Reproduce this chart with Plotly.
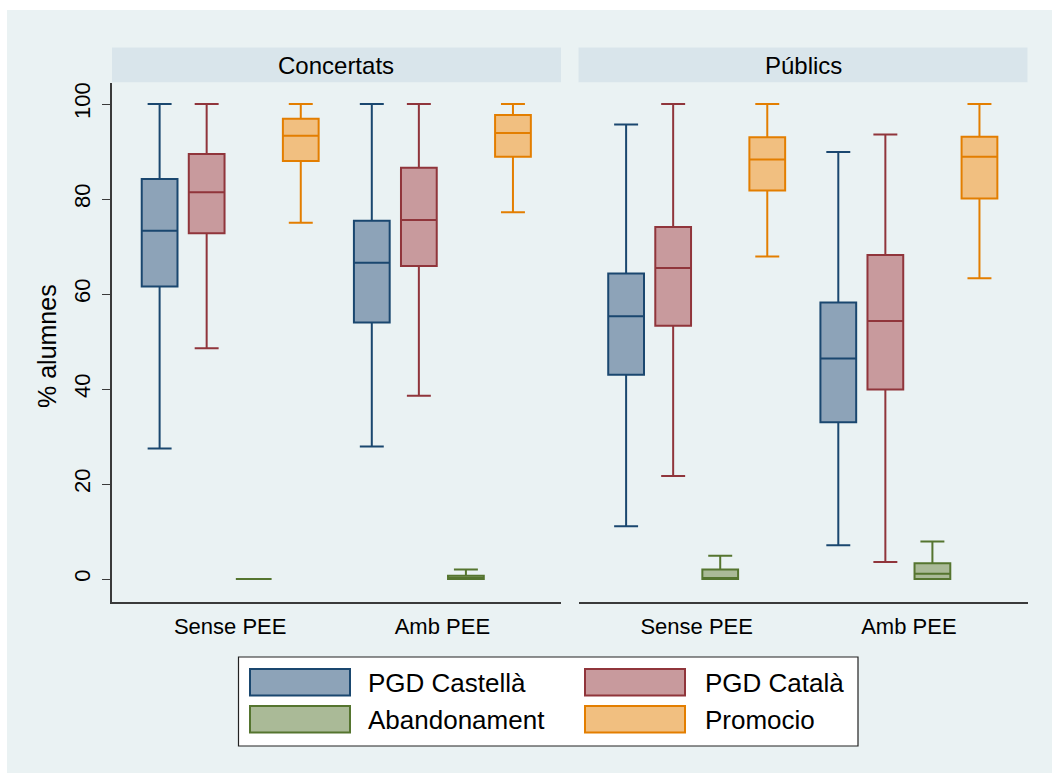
import plotly.graph_objects as go

W, H = 1052, 773

panels = ["Concertats", "Públics"]
groups = ["Sense PEE", "Amb PEE"]
series = ["PGD Castellà", "PGD Català", "Abandonament", "Promocio"]

# each entry per group: (lower whisker, q1, median, q3, upper whisker)
conc_castella = [(27.5, 61.6, 73.3, 84.2, 100), (27.9, 54.0, 66.6, 75.4, 100)]
conc_catala = [(48.6, 72.8, 81.4, 89.5, 100), (38.6, 65.9, 75.6, 86.6, 100)]
conc_abandon = [(0, 0, 0, 0, 0), (0, 0, 0, 0.7, 2.0)]
conc_promocio = [(75.0, 88.0, 93.3, 96.9, 100), (77.2, 88.9, 93.9, 97.7, 100)]

pub_castella = [(11.1, 43.0, 55.3, 64.3, 95.7), (7.1, 33.0, 46.4, 58.2, 89.9)]
pub_catala = [(21.7, 53.3, 65.5, 74.1, 100), (3.6, 39.9, 54.3, 68.2, 93.6)]
pub_abandon = [(0, 0, 0, 2.0, 4.9), (0, 0, 1.1, 3.3, 7.9)]
pub_promocio = [(67.9, 81.8, 88.3, 93.0, 100), (63.3, 80.1, 88.9, 93.1, 100)]

y_ticks = [0, 20, 40, 60, 80, 100]

line_colors = ["#1A476F", "#90353B", "#55752F", "#E37E00"]
fill_colors = ["#8DA3B8", "#C89A9D", "#AABA97", "#F1BF80"]

FONT = "Liberation Sans, Arial, sans-serif"


def X(px):
    return px / W


def Y(py):
    return 1 - py / H


fig = go.Figure()

panel_data = [
    [conc_castella, conc_catala, conc_abandon, conc_promocio],
    [pub_castella, pub_catala, pub_abandon, pub_promocio],
]

for p, pdata in enumerate(panel_data):
    for s, sdata in enumerate(pdata):
        fig.add_trace(go.Box(
            x=groups,
            lowerfence=[d[0] for d in sdata],
            q1=[d[1] for d in sdata],
            median=[d[2] for d in sdata],
            q3=[d[3] for d in sdata],
            upperfence=[d[4] for d in sdata],
            name=series[s],
            offsetgroup=str(s),
            line=dict(color=line_colors[s], width=2),
            fillcolor=fill_colors[s],
            whiskerwidth=0.67,
            boxpoints=False,
            showlegend=False,
            hoverinfo="skip",
            xaxis="x" if p == 0 else "x2",
            yaxis="y" if p == 0 else "y2",
        ))

plot_top, plot_bot = 83, 602
px_per_unit = 4.75
y0_px = 579
yr = [-(plot_bot - y0_px) / px_per_unit, 100 + (104 - plot_top) / px_per_unit]
ydom = [Y(plot_bot), Y(plot_top)]

p1 = (112, 561)
p2 = (578.5, 1027.5)

common_x = dict(
    type="category",
    categoryorder="array",
    categoryarray=groups,
    range=[-0.557, 1.559],
    showgrid=False,
    zeroline=False,
    showline=True,
    linecolor="#3A3A3A",
    linewidth=1.6,
    ticks="",
    tickfont=dict(family=FONT, size=22, color="#000000"),
    ticklabelstandoff=4,
    fixedrange=True,
)

fig.update_layout(
    width=W,
    height=H,
    margin=dict(l=0, r=0, t=0, b=0),
    paper_bgcolor="#FFFFFF",
    plot_bgcolor="#FFFFFF",
    boxmode="group",
    boxgap=0.113,
    boxgroupgap=0.24,
    showlegend=False,
    font=dict(family=FONT, color="#000000"),
    xaxis=dict(domain=[X(p1[0]), X(p1[1])], anchor="y", **common_x),
    xaxis2=dict(domain=[X(p2[0]), X(p2[1])], anchor="y2", **common_x),
    yaxis=dict(
        domain=ydom,
        range=yr,
        tickvals=y_ticks,
        ticktext=[str(v) for v in y_ticks],
        tickangle=-90,
        tickfont=dict(family=FONT, size=22, color="#000000"),
        ticks="outside",
        ticklen=8,
        tickwidth=1.4,
        tickcolor="#3A3A3A",
        showline=True,
        linecolor="#3A3A3A",
        linewidth=1.6,
        showgrid=True,
        gridcolor="#EAF2F3",
        gridwidth=2,
        zeroline=False,
        ticklabelstandoff=3,
        anchor="x",
        fixedrange=True,
    ),
    yaxis2=dict(
        domain=ydom,
        range=yr,
        matches="y",
        tickvals=y_ticks,
        showticklabels=False,
        ticks="",
        showline=False,
        showgrid=True,
        gridcolor="#EAF2F3",
        gridwidth=2,
        zeroline=False,
        anchor="x2",
        fixedrange=True,
    ),
)

shapes = []
# graph region background
shapes.append(dict(type="rect", xref="paper", yref="paper", x0=X(7), x1=1, y0=0, y1=Y(10),
                   fillcolor="#EAF2F3", line=dict(width=0), layer="below"))
annotations = []
# panel headers
for (a, b), title in zip([p1, p2], panels):
    shapes.append(dict(type="rect", xref="paper", yref="paper", x0=X(a), x1=X(b),
                       y0=Y(82.3), y1=Y(47.5), fillcolor="#D9E5EB", line=dict(width=0), layer="below"))
    annotations.append(dict(text=title, xref="paper", yref="paper", x=X((a + b) / 2), y=Y(65),
                            xanchor="center", yanchor="middle", showarrow=False,
                            font=dict(family=FONT, size=24, color="#000000")))

# y-axis title
annotations.append(dict(text="% alumnes", xref="paper", yref="paper", x=X(47), y=Y(346),
                        xanchor="center", yanchor="middle", textangle=-90, showarrow=False,
                        font=dict(family=FONT, size=25, color="#000000")))

# legend box
shapes.append(dict(type="rect", xref="paper", yref="paper", x0=X(238.5), x1=X(858), y0=Y(746), y1=Y(657),
                   fillcolor="#FFFFFF", line=dict(color="#222222", width=1.2)))
leg_pos = [(250, 669, 366), (585, 669, 703), (250, 706, 366), (585, 706, 703)]
for s, (sx, sy, tx) in enumerate(leg_pos):
    shapes.append(dict(type="rect", xref="paper", yref="paper", x0=X(sx), x1=X(sx + 100),
                       y0=Y(sy + 26.5), y1=Y(sy), fillcolor=fill_colors[s],
                       line=dict(color=line_colors[s], width=2)))
    annotations.append(dict(text=series[s], xref="paper", yref="paper", x=X(tx), y=Y(sy + 13.5),
                            xanchor="left", yanchor="middle", showarrow=False,
                            font=dict(family=FONT, size=26, color="#000000")))

fig.update_layout(shapes=shapes, annotations=annotations)

fig.write_html("out.html")
